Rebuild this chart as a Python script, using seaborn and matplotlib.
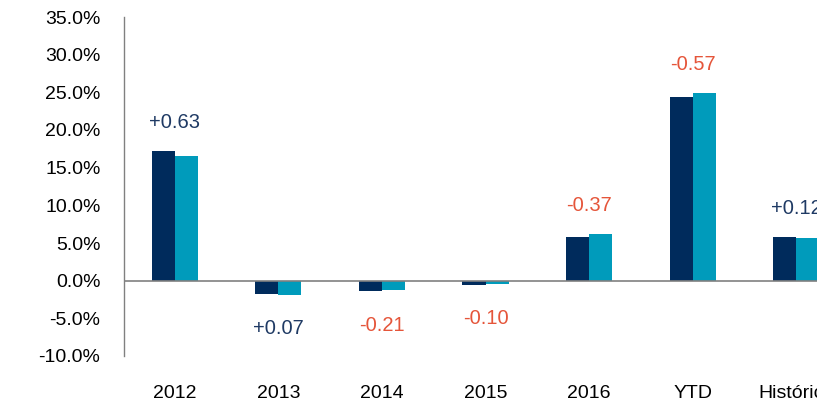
import matplotlib
matplotlib.use("Agg")
import matplotlib.pyplot as plt
import seaborn as sns
import pandas as pd
from matplotlib.ticker import FuncFormatter

categories = ["2012", "2013", "2014", "2015", "2016", "YTD", "Histórico"]
fund = [17.20, -1.80, -1.42, -0.55, 5.80, 24.40, 5.82]
bench = [16.57, -1.87, -1.21, -0.45, 6.17, 24.97, 5.70]
diffs = [0.63, 0.07, -0.21, -0.10, -0.37, -0.57, 0.12]
series_names = ["Fundo", "Benchmark"]

df = pd.DataFrame({
    "cat": categories * 2,
    "val": fund + bench,
    "serie": [series_names[0]] * len(categories) + [series_names[1]] * len(categories),
})

sns.set_theme(style="white")
plt.rcParams["font.family"] = ["Liberation Sans", "DejaVu Sans"]

fig = plt.figure(figsize=(8.17, 4.01), dpi=100)
ax = fig.add_axes([124 / 817, 1 - 356 / 401, 1 - 124 / 817, (356 - 17) / 401])

palette = {"Fundo": "#002B5C", "Benchmark": "#009BBB"}
sns.barplot(data=df, x="cat", y="val", hue="serie", palette=palette,
            width=0.445, gap=0, ax=ax, legend=False, saturation=1,
            edgecolor="none")

ax.set_ylim(-10, 35)
ax.set_xlim(-0.49, 6.2)
ax.set_yticks(range(-10, 36, 5))
ax.yaxis.set_major_formatter(FuncFormatter(lambda v, p: f"{v:.1f}%"))
ax.set_xlabel("")
ax.set_ylabel("")

for s in ["top", "right", "bottom"]:
    ax.spines[s].set_visible(False)
ax.spines["left"].set_color("#808080")
ax.spines["left"].set_linewidth(1.0)
ax.axhline(0, color="#808080", lw=1.2, zorder=3)

ax.tick_params(axis="y", length=0, pad=17, labelsize=14, labelcolor="#000000")
ax.tick_params(axis="x", length=0, pad=21, labelsize=14, labelcolor="#000000")

for i, d in enumerate(diffs):
    col = "#1F3A64" if d >= 0 else "#E5553A"
    txt = f"{d:+.2f}"
    top = max(fund[i], bench[i])
    bot = min(fund[i], bench[i])
    if top > 0:
        ax.annotate(txt, (i, top), xytext=(0, 20.5), textcoords="offset points",
                    ha="center", va="center", fontsize=14.5, color=col)
    else:
        ax.annotate(txt, (i, bot), xytext=(0, -24.5), textcoords="offset points",
                    ha="center", va="center", fontsize=14.5, color=col)

fig.savefig("out.png", dpi=100)
